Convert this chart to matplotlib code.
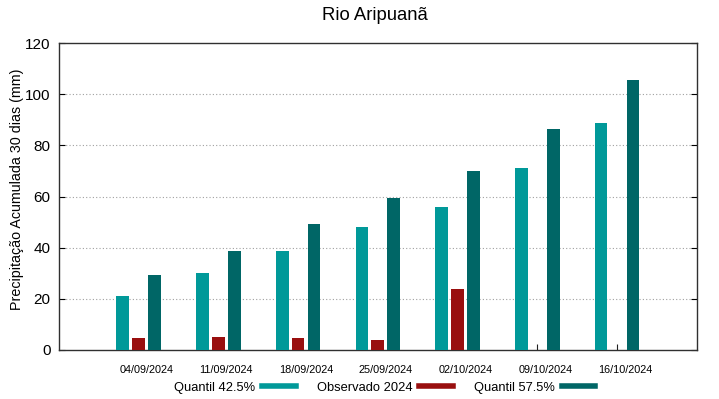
import numpy as np
import matplotlib.pyplot as plt
from matplotlib.lines import Line2D

plt.rcParams['font.family'] = ['Liberation Sans', 'DejaVu Sans']

datas = ["04/09/2024", "11/09/2024", "18/09/2024", "25/09/2024",
         "02/10/2024", "09/10/2024", "16/10/2024"]
q425 = [21.1, 30.1, 38.8, 48.0, 56.0, 71.3, 88.7]
obs2024 = [4.8, 5.2, 4.8, 3.9, 23.8, np.nan, np.nan]
q575 = [29.2, 38.7, 49.3, 59.4, 70.1, 86.3, 105.4]

c_q425 = "#009999"
c_obs = "#990f0f"
c_q575 = "#006666"

fig = plt.figure(figsize=(7.19, 3.99), dpi=100)
ax = fig.add_axes([0.082, 0.123, 0.887, 0.769])

x = np.arange(len(datas))
w = 0.16
ax.bar(x - 0.2, q425, w, color=c_q425, zorder=3)
ax.bar(x, obs2024, w, color=c_obs, zorder=3)
ax.bar(x + 0.2, q575, w, color=c_q575, zorder=3)

ax.set_xlim(-1, 7)
ax.set_ylim(0, 120)
ax.set_yticks(range(0, 121, 20))
# tick marks at the group centre, labels shifted a bit to the right (like gnuplot)
ax.set_xticks(x)
ax.set_xticklabels([])
ax.set_xticks(x + 0.1, minor=True)
ax.set_xticklabels(datas, minor=True, fontsize=7.8)

# dotted grid, only the inner lines
for yv in range(20, 101, 20):
    ax.axhline(yv, color="#a0a0a0", lw=0.8, ls=(0, (1, 2)), zorder=1)

ax.tick_params(axis="y", direction="in", right=True, labelsize=11, length=4, pad=6)
ax.tick_params(axis="x", which="major", direction="in", length=4, colors="#202020")
ax.tick_params(axis="x", which="minor", length=0, pad=11)
for s in ax.spines.values():
    s.set_linewidth(1.0)
    s.set_color("#303030")

fig.text(0.024, 0.526, "Precipitação Acumulada 30 dias (mm)", rotation=90,
         ha="center", va="center", fontsize=10.3)
fig.text(0.522, 0.962, "Rio Aripuanã", ha="center", va="center", fontsize=13.3)

handles = [Line2D([], [], color=c_q425, lw=4),
           Line2D([], [], color=c_obs, lw=4),
           Line2D([], [], color=c_q575, lw=4)]
fig.legend(handles, ["Quantil 42.5%", "Observado 2024", "Quantil 57.5%"],
           loc="center", bbox_to_anchor=(0.535, 0.028), ncol=3, frameon=False,
           markerfirst=False, fontsize=9.3, handlelength=2.6, columnspacing=1.6,
           handletextpad=0.55)

fig.savefig("out.png", dpi=100)
